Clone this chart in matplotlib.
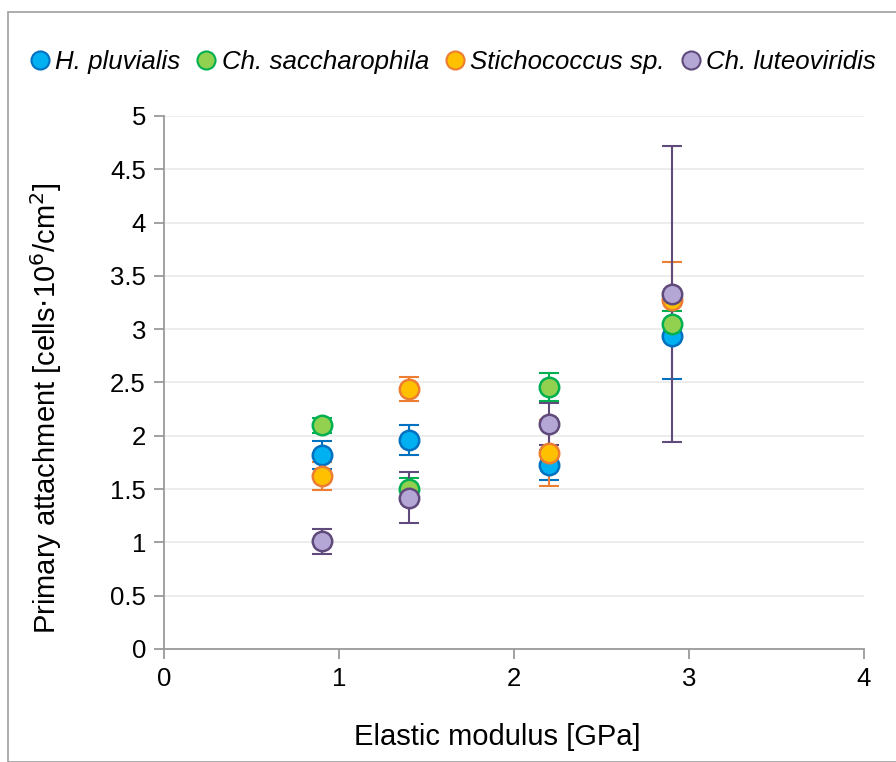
import matplotlib
matplotlib.use("Agg")
import matplotlib.pyplot as plt
from matplotlib.patches import Rectangle
from matplotlib.lines import Line2D

plt.rcParams['font.family'] = ['Liberation Sans', 'DejaVu Sans']

modulus = [0.9, 1.4, 2.2, 2.9]
species = ["H. pluvialis", "Ch. saccharophila", "Stichococcus sp.", "Ch. luteoviridis"]
h_pluvialis = [1.82, 1.96, 1.73, 2.94]
h_pluvialis_err = [0.13, 0.14, 0.14, 0.41]
ch_saccharophila = [2.10, 1.50, 2.46, 3.05]
ch_saccharophila_err = [0.07, 0.10, 0.13, 0.12]
stichococcus = [1.62, 2.44, 1.84, 3.27]
stichococcus_err = [0.13, 0.11, 0.31, 0.36]
ch_luteoviridis = [1.01, 1.42, 2.11, 3.33]
ch_luteoviridis_err = [0.12, 0.24, 0.20, 1.39]

series = [h_pluvialis, ch_saccharophila, stichococcus, ch_luteoviridis]
errors = [h_pluvialis_err, ch_saccharophila_err, stichococcus_err, ch_luteoviridis_err]
fills = ["#00b0f0", "#92d050", "#ffc000", "#b4a7d6"]
edges = ["#0070c0", "#00b050", "#ed7d31", "#604a7b"]

fig = plt.figure(figsize=(8.96, 7.62), dpi=100)
ax = fig.add_axes([164/896, 1-649/762, 700/896, 533/762])

for vals, err, fc, ec in zip(series, errors, fills, edges):
    ax.errorbar(modulus, vals, yerr=err, fmt='none', ecolor=ec, elinewidth=1.5,
                capsize=7, capthick=1.5, zorder=3)
for vals, fc, ec in zip(series, fills, edges):
    ax.plot(modulus, vals, 'o', ms=14, mfc=fc, mec=ec, mew=1.8, ls='none', zorder=4)

ax.set_xlim(0, 4)
ax.set_ylim(0, 5)
ax.set_xticks([0, 1, 2, 3, 4])
ax.set_yticks([0, 0.5, 1, 1.5, 2, 2.5, 3, 3.5, 4, 4.5, 5])
ax.set_yticklabels(["0", "0.5", "1", "1.5", "2", "2.5", "3", "3.5", "4", "4.5", "5"])
ax.grid(axis='y', color='#ececec', lw=1.3)
ax.set_axisbelow(True)
for s in ['top', 'right']:
    ax.spines[s].set_visible(False)
for s in ['left', 'bottom']:
    ax.spines[s].set_color('#9a9a9a')
    ax.spines[s].set_linewidth(1.3)
ax.tick_params(axis='both', direction='out', length=7, width=1.3, color='#9a9a9a',
               labelsize=18.5, labelcolor='black', pad=6)
ax.set_xlabel("Elastic modulus [GPa]", fontsize=21, va='center')
ax.xaxis.set_label_coords((497-164)/700, (649-737)/533)
ax.set_ylabel("Primary attachment [cells$\\cdot$10$^{6}$/cm$^{2}$]", fontsize=21, va='center')
ax.yaxis.set_label_coords((46-164)/700, (649-408)/533)

handles = [Line2D([], [], marker='o', ls='none', ms=13, mfc=fc, mec=ec, mew=1.5)
           for fc, ec in zip(fills, edges)]
leg = fig.legend(handles, species, loc='center left', bbox_to_anchor=(28/896, 1-62/762),
                 ncol=4, frameon=False, handletextpad=0.15, columnspacing=0.55,
                 handlelength=0.9, borderaxespad=0, borderpad=0,
                 prop={'style': 'italic', 'size': 18.6})

fig.patches.append(Rectangle((8/896, 0), 1.0, 1-12/762, transform=fig.transFigure,
                             fill=False, edgecolor='#a6a6a6', lw=1.3))

fig.savefig("out.png", dpi=100)
